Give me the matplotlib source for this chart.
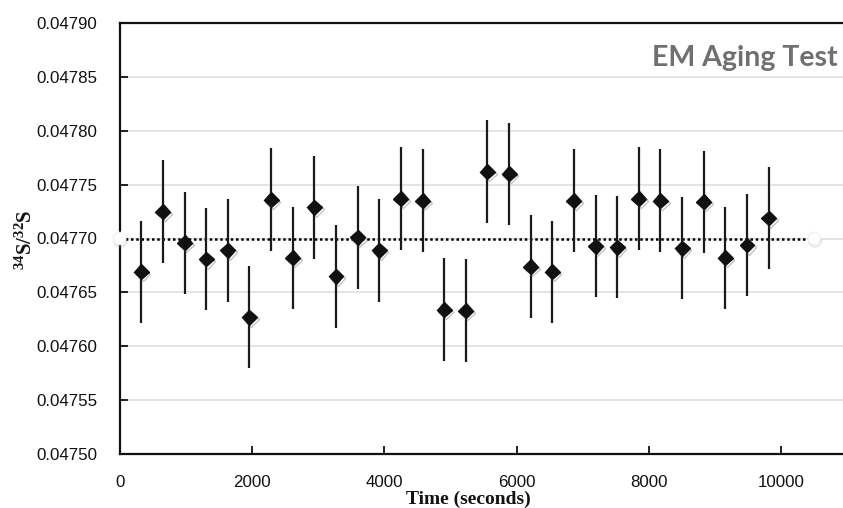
import matplotlib
matplotlib.use("Agg")
import matplotlib.pyplot as plt
import matplotlib.patheffects as pe

# ---- data ----
time_s = [327, 654, 981, 1308, 1635, 1962, 2289, 2616, 2943, 3270,
          3597, 3924, 4251, 4578, 4905, 5232, 5559, 5886, 6213, 6540,
          6867, 7194, 7521, 7848, 8175, 8502, 8829, 9156, 9483, 9810]
ratio = [0.047669, 0.047725, 0.047696, 0.047681, 0.047689, 0.047627, 0.047736, 0.047682, 0.047729, 0.047665,
         0.047701, 0.047689, 0.047737, 0.047735, 0.047634, 0.047633, 0.047762, 0.047760, 0.047674, 0.047669,
         0.047735, 0.047693, 0.047692, 0.047737, 0.047735, 0.047691, 0.047734, 0.047682, 0.047694, 0.047719]
ratio_err = [0.0000476] * 30
ref_x = [0, 10500]
ref_y = [0.04770, 0.04770]
xticks = [0, 2000, 4000, 6000, 8000, 10000]
yticks = [0.04750, 0.04755, 0.04760, 0.04765, 0.04770, 0.04775, 0.04780, 0.04785, 0.04790]

plt.rcParams['mathtext.fontset'] = 'custom'
plt.rcParams['mathtext.rm'] = 'Liberation Serif:bold'
plt.rcParams['mathtext.it'] = 'Liberation Serif:bold'
plt.rcParams['mathtext.bf'] = 'Liberation Serif:bold'

W, H = 843, 508
fig = plt.figure(figsize=(W / 100, H / 100), dpi=100)
left, right, top, bottom = 119.7, 843, 23, 454
ax = fig.add_axes([left / W, (H - bottom) / H, (right - left) / W, (bottom - top) / H])

x_per_px = 1 / 0.06615
ax.set_xlim(0, (right - left) * x_per_px)
ax.set_ylim(0.04750, 0.04790)

# grid
for yv in yticks[1:-1]:
    ax.axhline(yv, color='#dcdcdc', lw=1.1, zorder=0)

# reference dotted line
ax.plot(ref_x, ref_y, color='black', lw=1.8, linestyle=(0, (1, 1.1)), zorder=2)
ax.plot(ref_x, ref_y, linestyle='none', marker='o', markersize=9,
        markerfacecolor='white', markeredgecolor='#eeeeee', markeredgewidth=0.8,
        clip_on=False, zorder=5,
        path_effects=[pe.SimpleLineShadow(offset=(0.5, -1.5), shadow_color='#999999', alpha=0.35),
                      pe.Normal()])

# error bars
ax.errorbar(time_s, ratio, yerr=ratio_err, fmt='none', ecolor='#1a1a1a',
            elinewidth=1.6, capsize=0, zorder=3)
ax.plot(time_s, ratio, linestyle='none', marker='D', markersize=7.6,
        markerfacecolor='#111111', markeredgecolor='#111111', zorder=4,
        path_effects=[pe.SimpleLineShadow(offset=(1.2, -1.5), shadow_color='#555555', alpha=0.35),
                      pe.Normal()])

# spines
for s in ['left', 'bottom', 'top']:
    ax.spines[s].set_linewidth(1.6)
    ax.spines[s].set_color('#111111')
ax.spines['right'].set_visible(False)

ax.set_xticks(xticks)
ax.set_xticklabels([str(v) for v in xticks])
ax.set_yticks(yticks)
ax.set_yticklabels([f"{v:.5f}" for v in yticks])
ax.tick_params(axis='both', direction='in', length=6, width=1.3, colors='#111111',
               labelsize=12.2, labelcolor='#111111')
ax.tick_params(axis='y', pad=16)
ax.tick_params(axis='x', pad=15)
for lab in ax.get_xticklabels() + ax.get_yticklabels():
    lab.set_fontfamily('Liberation Sans')

# title inside plot
fig.text(838 / W, (H - 58) / H, 'EM Aging Test', ha='right', va='center',
         fontsize=20.5, fontweight='bold', color='#707070', family='Lato')

# axis labels
fig.text(468.5 / W, (H - 499) / H, 'Time (seconds)', ha='center', va='center',
         fontsize=14, fontweight='bold', family='Liberation Serif', color='#111111')
fig.text(25 / W, (H - 240) / H, r'$^{34}\mathrm{S/}^{32}\mathrm{S}$', ha='center', va='center',
         rotation=90, fontsize=15, color='#111111')

fig.savefig('out.png', dpi=100)
